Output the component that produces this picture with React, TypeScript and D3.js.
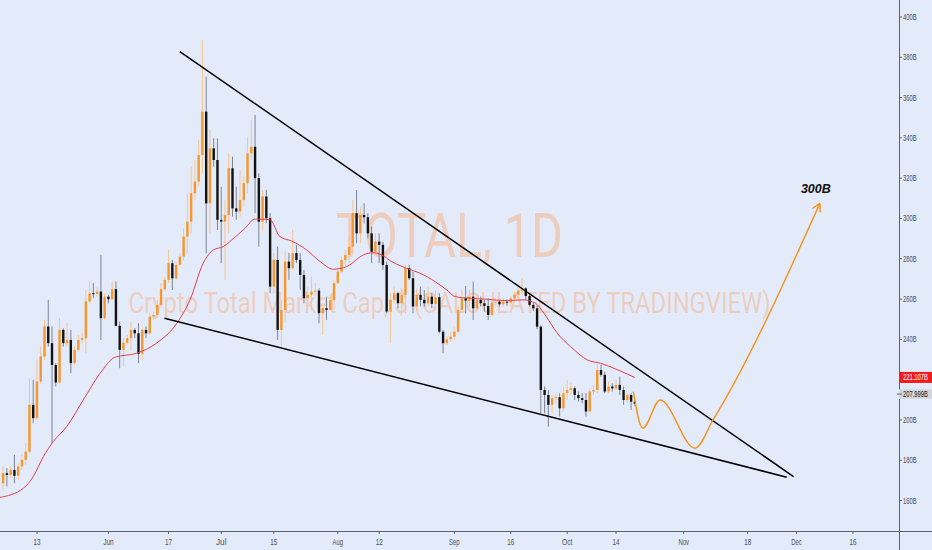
import React from "react";
import * as d3 from "d3";

// daily candles, TOTAL crypto market cap (billions), starting 2019-05-04
const startDate = "2019-05-04";
const firstOpen = 168.6;
const closes = [
  173.6, 172.7, 175.2, 172.3, 176.9, 180.2, 184.3, 207.5, 200.9, 219.1,
  231.5, 246.4, 238.1, 227.3, 218.6, 244.7, 238.1, 239.7, 228.2, 234.8,
  239.7, 240.6, 258.8, 262.9, 262.6, 263.7, 250.5, 261.2, 259.9, 264.9,
  246.7, 234.8, 238.4, 240.6, 244.7, 243.0, 232.8, 244.7, 243.0, 251.3,
  252.1, 257.1, 264.9, 269.5, 277.8, 270.3, 277.0, 281.1, 291.0, 298.4,
  312.5, 318.3, 331.5, 353.0, 307.5, 334.8, 329.0, 299.3, 298.4, 301.7,
  324.9, 305.0, 303.4, 309.2, 317.5, 332.3, 335.6, 320.0, 298.4, 310.9,
  300.1, 266.2, 279.4, 244.7, 254.6, 278.6, 275.3, 282.8, 279.4, 272.0,
  260.4, 262.1, 263.7, 264.2, 253.0, 255.5, 254.6, 259.5, 267.9, 273.6,
  279.4, 281.9, 286.0, 302.6, 292.6, 301.7, 300.6, 292.6, 283.5, 288.5,
  286.9, 276.9, 253.8, 259.6, 262.9, 257.9, 262.1, 275.3, 270.3, 256.3,
  262.1, 259.6, 257.9, 261.2, 257.6, 260.9, 243.8, 238.1, 240.1, 241.4,
  243.8, 254.6, 260.4, 259.2, 261.2, 255.4, 259.6, 257.9, 256.6, 252.1,
  258.2, 258.7, 257.4, 258.7, 258.2, 260.4, 262.2, 264.2, 265.3, 261.5,
  257.1, 255.4, 246.3, 214.9, 212.4, 207.5, 210.8, 211.3, 205.8, 213.3,
  214.9, 215.7, 212.4, 210.8, 209.9, 204.2, 214.1, 214.9, 224.8, 222.4,
  214.1, 216.6, 215.7, 217.4, 214.9, 209.9, 212.4, 209.1, 207.999,
];
const highs = [
  176.9, 176.1, 176.9, 182.7, 178.5, 182.7, 188.5, 220.7, 219.9, 229.8,
  236.4, 249.7, 259.6, 246.4, 228.2, 250.5, 245.5, 248.0, 244.7, 236.4,
  242.2, 243.0, 264.6, 268.7, 267.9, 266.2, 281.9, 262.9, 262.1, 268.7,
  268.7, 248.8, 240.6, 242.2, 248.8, 245.5, 248.0, 245.5, 246.4, 253.0,
  253.8, 259.6, 267.9, 271.2, 284.4, 279.4, 278.6, 282.7, 295.0, 312.5,
  325.7, 329.0, 339.0, 388.6, 370.4, 344.0, 339.8, 339.8, 315.8, 309.2,
  332.3, 330.7, 315.8, 324.0, 320.8, 340.6, 348.9, 351.4, 322.4, 314.2,
  314.2, 302.6, 282.8, 286.1, 259.6, 283.6, 282.8, 294.3, 286.9, 282.8,
  274.5, 266.2, 271.2, 267.9, 265.4, 257.9, 261.2, 262.0, 269.5, 276.1,
  281.0, 284.4, 291.0, 309.2, 314.1, 305.9, 307.5, 302.6, 296.0, 292.6,
  292.6, 288.5, 278.6, 262.9, 266.2, 263.7, 264.5, 276.9, 276.9, 273.6,
  265.4, 266.2, 264.5, 266.2, 262.9, 264.5, 262.9, 244.7, 241.4, 243.8,
  246.3, 256.3, 264.5, 266.5, 264.5, 268.7, 262.1, 261.2, 259.6, 260.4,
  259.6, 260.4, 259.6, 260.4, 259.9, 261.2, 263.7, 266.2, 270.3, 265.8,
  262.9, 258.0, 257.0, 247.0, 216.6, 214.9, 212.4, 213.3, 213.3, 216.6,
  219.9, 218.2, 216.6, 214.1, 213.3, 213.3, 215.7, 217.4, 229.0, 227.3,
  224.0, 219.1, 218.2, 219.9, 221.5, 216.6, 213.3, 213.3, 210.0,
];
const lows = [
  165.3, 167.0, 171.1, 168.6, 170.3, 175.2, 177.7, 183.5, 198.4, 200.0,
  218.2, 229.8, 236.4, 188.5, 216.6, 218.2, 236.4, 236.4, 223.2, 227.3,
  233.9, 238.1, 233.1, 257.9, 260.4, 261.2, 239.7, 249.7, 257.9, 259.6,
  246.4, 225.7, 226.5, 237.3, 234.8, 240.6, 228.2, 229.8, 240.6, 242.2,
  249.7, 250.5, 256.3, 263.7, 267.9, 264.5, 269.5, 276.1, 279.0, 282.7,
  292.6, 309.2, 315.8, 322.4, 282.7, 292.6, 325.7, 294.3, 277.8, 269.5,
  292.6, 300.9, 299.3, 300.9, 305.9, 312.5, 329.0, 302.6, 286.0, 293.5,
  297.6, 262.9, 262.9, 239.7, 236.4, 248.0, 269.5, 274.5, 277.8, 264.6,
  257.9, 258.8, 254.6, 261.2, 248.0, 242.2, 249.7, 254.6, 254.6, 267.1,
  272.8, 276.9, 277.8, 282.7, 287.7, 287.7, 297.6, 290.2, 277.8, 282.7,
  277.8, 274.4, 253.0, 238.1, 257.9, 255.4, 252.9, 252.9, 269.5, 252.9,
  254.6, 256.3, 256.3, 256.3, 255.4, 254.6, 243.0, 233.1, 237.2, 238.9,
  239.7, 243.0, 253.8, 252.9, 256.3, 249.6, 254.6, 256.3, 253.8, 249.6,
  251.3, 256.6, 256.3, 256.3, 256.6, 256.3, 258.7, 261.2, 262.1, 259.6,
  256.3, 254.0, 245.0, 203.3, 203.3, 196.7, 203.3, 208.3, 201.7, 204.2,
  209.9, 212.4, 209.9, 209.1, 208.3, 201.7, 204.2, 212.4, 213.3, 221.5,
  213.3, 213.3, 214.1, 214.9, 212.4, 207.5, 208.3, 205.0, 207.0,
];

// moving average (day offset from startDate, value)
const maDays = [
  -1, 5.4, 8.0, 10.7, 13.3, 16.9, 21.3, 25.8, 29.7, 35.5, 40.8, 46.2, 49.7,
  53.2, 55.9, 58.5, 60.8, 64.3, 67.0, 69.2, 71.0, 73.6, 76.7, 80.7, 84.3,
  87.8, 91.4, 95.8, 98.4, 100.7, 103.3, 107.3, 110.9, 114.9, 118.0, 120.2,
  124.2, 128.6, 133.9, 138.3, 141.6, 143.8, 147.4, 150.9, 155.4, 158.9,
  162.4, 165.1, 168,
];
const maValues = [
  161.5, 166.1, 171.9, 181.8, 189.2, 196.7, 209.9, 223.2, 231.1, 233.1,
  238.1, 248.0, 259.6, 277.8, 284.4, 286.0, 289.3, 295.1, 299.7, 299.6,
  299.3, 291.0, 288.8, 284.4, 278.6, 274.8, 276.1, 281.9, 283.0, 281.9,
  278.6, 275.3, 272.8, 268.6, 264.5, 261.2, 260.4, 259.9, 259.2, 259.6,
  257.9, 253.0, 243.0, 236.4, 229.8, 228.1, 225.7, 223.5, 221.107,
];

// drawn trendlines and projection
const upperTrendDays = [47.0, 210.2];
const upperTrendValues = [382.8, 171.9];
const lowerTrendDays = [42.9, 208.4];
const lowerTrendValues = [250.5, 171.6];
const projectionDays = [167.6, 170.1, 174.7, 184.0, 188.8, 217.2];
const projectionValues = [214.0, 195.9, 209.9, 186.0, 200.0, 307.5];
const targetLabel = "300B";

const priceTicks = [160, 180, 200, 220, 240, 260, 280, 300, 320, 340, 360, 380, 400];
const timeTicks = [
  "2019-05-13", "2019-06-01", "2019-06-17", "2019-07-01", "2019-07-15",
  "2019-08-01", "2019-08-12", "2019-09-01", "2019-09-16", "2019-10-01",
  "2019-10-14", "2019-11-01", "2019-11-18", "2019-12-01", "2019-12-16",
];
const timeTickLabels = [
  "13", "Jun", "17", "Jul", "15", "Aug", "12", "Sep", "16", "Oct", "14",
  "Nov", "18", "Dec", "16",
];

const symbolText = "TOTAL, 1D";
const descText = "Crypto Total Market Cap, $ (CALCULATED BY TRADINGVIEW)";

const W = 932;
const H = 550;
const plotW = 899;
const plotH = 531;
const DAY = 864e5;

export default function App() {
  const x = d3
    .scaleUtc()
    .domain([new Date(Date.UTC(2019, 4, 3, 4)), new Date(Date.UTC(2019, 11, 28, 6))])
    .range([0, plotW]);
  const y = d3.scaleLinear().domain([144.9, 408.4]).range([plotH, 0]);

  const t0 = Date.parse(startDate + "T00:00:00Z");
  const dx = (d: number) => x(new Date(t0 + d * DAY));

  const candles = closes.map((c, i) => {
    const o = i === 0 ? firstOpen : closes[i - 1];
    return {
      i,
      o,
      c,
      h: Math.max(highs[i], o, c),
      l: Math.min(lows[i], o, c),
      up: c >= o,
    };
  });

  const maPath = d3
    .line<number>()
    .x((_, i) => dx(maDays[i]))
    .y((v) => y(v))
    .curve(d3.curveMonotoneX)(maValues);

  const projPts: [number, number][] = projectionDays.map((d, i) => [dx(d), y(projectionValues[i])]);
  const projPath = d3.line().curve(d3.curveMonotoneX)(projPts);
  const tip = projPts[projPts.length - 1];
  const prev = projPts[projPts.length - 2];
  const ang = Math.atan2(tip[1] - prev[1], tip[0] - prev[0]);
  const headLen = 9;
  const head = [ang + Math.PI - 0.5, ang + Math.PI + 0.5].map((a) => [
    tip[0] + headLen * Math.cos(a),
    tip[1] + headLen * Math.sin(a),
  ]);

  const bodyW = 2.4;
  const maLast = maValues[maValues.length - 1];
  const lastClose = closes[closes.length - 1];
  const axisColor = "#5d616d";
  const labelColor = "#4a4e5a";
  const font = "'Liberation Sans', Arial, sans-serif";

  return (
    <svg
      width={W}
      height={H}
      style={{ position: "absolute", left: 0, top: 0, display: "block" }}
    >
      <defs>
        <clipPath id="plot">
          <rect x={0} y={0} width={plotW} height={plotH} />
        </clipPath>
      </defs>
      <rect x={0} y={0} width={W} height={H} fill="#e3eafa" />

      {/* watermark */}
      <g fill="#ff9a50" fillOpacity={0.36} fontFamily="Roboto, 'Liberation Sans', sans-serif">
        <text
          x={plotW / 2}
          y={257}
          fontSize={62}
          textAnchor="middle"
          textLength={227}
          lengthAdjust="spacingAndGlyphs"
        >
          {symbolText}
        </text>
        <text
          x={plotW / 2}
          y={313}
          fontSize={30}
          textAnchor="middle"
          textLength={642}
          lengthAdjust="spacingAndGlyphs"
        >
          {descText}
        </text>
      </g>

      <g clipPath="url(#plot)">
        {/* candles */}
        {candles.map((k) => {
          const cx = dx(k.i);
          const top = y(Math.max(k.o, k.c));
          const bot = y(Math.min(k.o, k.c));
          return (
            <g key={k.i}>
              <line
                x1={cx}
                x2={cx}
                y1={y(k.h)}
                y2={y(k.l)}
                stroke={k.up ? "#f5c690" : "#7f8491"}
                strokeWidth={1}
              />
              <rect
                x={cx - bodyW / 2}
                y={top}
                width={bodyW}
                height={Math.max(1, bot - top)}
                fill={k.up ? "#f7962c" : "#131313"}
              />
            </g>
          );
        })}

        {/* moving average */}
        <path d={maPath || ""} fill="none" stroke="#e8404a" strokeWidth={1} />

        {/* trendlines */}
        <line
          x1={dx(upperTrendDays[0])}
          y1={y(upperTrendValues[0])}
          x2={dx(upperTrendDays[1])}
          y2={y(upperTrendValues[1])}
          stroke="#000"
          strokeWidth={1.5}
        />
        <line
          x1={dx(lowerTrendDays[0])}
          y1={y(lowerTrendValues[0])}
          x2={dx(lowerTrendDays[1])}
          y2={y(lowerTrendValues[1])}
          stroke="#000"
          strokeWidth={1.5}
        />

        {/* projection */}
        <path d={projPath || ""} fill="none" stroke="#f7931a" strokeWidth={1.4} />
        {head.map((p, i) => (
          <line
            key={i}
            x1={tip[0]}
            y1={tip[1]}
            x2={p[0]}
            y2={p[1]}
            stroke="#f7931a"
            strokeWidth={1.4}
          />
        ))}
        <text
          x={tip[0] - 4}
          y={tip[1] - 10}
          textAnchor="middle"
          fontFamily={font}
          fontSize={12.5}
          fontWeight="bold"
          fontStyle="italic"
          fill="#111"
        >
          {targetLabel}
        </text>
      </g>

      {/* axes */}
      <line x1={plotW + 0.5} x2={plotW + 0.5} y1={0} y2={H} stroke={axisColor} strokeWidth={1} />
      <line x1={0} x2={W} y1={plotH + 0.5} y2={plotH + 0.5} stroke={axisColor} strokeWidth={1} />

      <g fontFamily={font} fontSize={9} fill={labelColor}>
        {priceTicks.map((v) => {
          const label = `${v}B`;
          return (
            <g key={v}>
              <line x1={plotW} x2={plotW + 3} y1={y(v)} y2={y(v)} stroke={axisColor} />
              <text
                x={plotW + 4}
                y={y(v) + 3}
                textLength={label.length * 3.4}
                lengthAdjust="spacingAndGlyphs"
              >
                {label}
              </text>
            </g>
          );
        })}
        {timeTicks.map((t, i) => {
          const tx = x(new Date(t + "T00:00:00Z"));
          const label = timeTickLabels[i];
          return (
            <g key={t}>
              <line x1={tx} x2={tx} y1={plotH} y2={plotH + 3} stroke={axisColor} />
              <text
                x={tx}
                y={545}
                textAnchor="middle"
                textLength={label.length * 3.5}
                lengthAdjust="spacingAndGlyphs"
              >
                {label}
              </text>
            </g>
          );
        })}
      </g>

      {/* last value labels */}
      <g fontFamily={font} fontSize={9}>
        <rect x={plotW} y={y(maLast) - 5.5} width={W - plotW} height={11} fill="#f21b1b" />
        <text
          x={plotW + 4}
          y={y(maLast) + 3}
          fill="#fff"
          textLength={25}
          lengthAdjust="spacingAndGlyphs"
        >
          {maLast.toFixed(3)}B
        </text>
        <rect x={plotW} y={y(lastClose) - 14.5} width={W - plotW} height={9.5} fill="#d4d7de" />
        <line x1={plotW - 2} x2={plotW + 3} y1={y(lastClose) - 9.8} y2={y(lastClose) - 9.8} stroke={axisColor} />
        <text
          x={plotW + 4}
          y={y(lastClose) - 6.8}
          fill="#1a1a1a"
          textLength={25}
          lengthAdjust="spacingAndGlyphs"
        >
          {lastClose.toFixed(3)}B
        </text>
      </g>
    </svg>
  );
}
